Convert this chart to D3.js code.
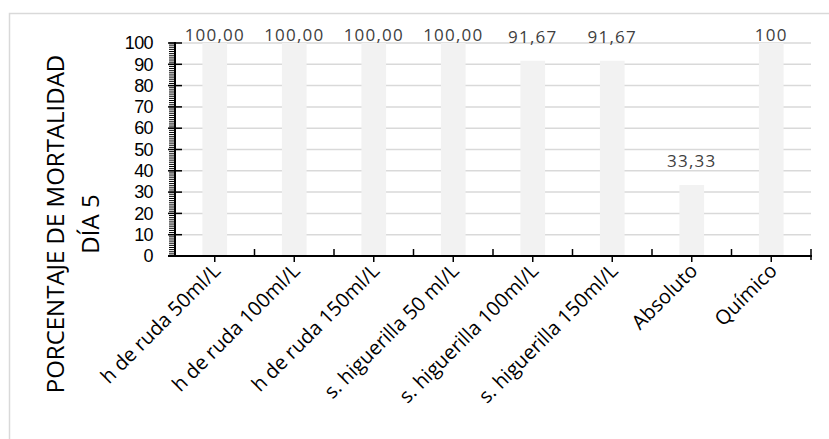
<!DOCTYPE html>
<html>
<head>
<meta charset="utf-8">
<script src="https://cdn.jsdelivr.net/npm/d3@7"></script>
<style>
  html, body { margin: 0; padding: 0; background: #fff; }
  svg { display: block; }
</style>
</head>
<body>
<div id="chart"></div>
<script>
// Mortalidad acumulada al día 5 por tratamiento
const categories = [
  "h de ruda 50ml/L",
  "h de ruda 100ml/L",
  "h de ruda 150ml/L",
  "s. higuerilla 50 ml/L",
  "s. higuerilla 100ml/L",
  "s. higuerilla 150ml/L",
  "Absoluto",
  "Químico"
];
const mortalidad = [100, 100, 100, 100, 91.67, 91.67, 33.33, 100];
const labelDecimals = [2, 2, 2, 2, 2, 2, 2, 0];
const yTicks = [0, 10, 20, 30, 40, 50, 60, 70, 80, 90, 100];
const yTitleLines = ["PORCENTAJE DE MORTALIDAD", "DÍA 5"];

const W = 829, H = 439;
const plot = { left: 175, right: 811, top: 43, bottom: 256 };

const svg = d3.select("#chart").append("svg")
  .attr("width", W).attr("height", H);

// chart frame
svg.append("rect")
  .attr("x", 9.5).attr("y", 13.5)
  .attr("width", W).attr("height", H)
  .attr("fill", "#fff")
  .attr("stroke", "#d9d9d9").attr("stroke-width", 1.5);

const x = d3.scaleBand().domain(categories).range([plot.left, plot.right]).padding(0);
const y = d3.scaleLinear().domain([0, 100]).range([plot.bottom, plot.top]);

// horizontal gridlines
svg.append("g").selectAll("line")
  .data(yTicks.filter(t => t > 0))
  .join("line")
  .attr("x1", plot.left).attr("x2", plot.right)
  .attr("y1", d => y(d)).attr("y2", d => y(d))
  .attr("stroke", "#d9d9d9").attr("stroke-width", 1.5);

// bars
const barW = x.bandwidth() * 0.31;
svg.append("g").selectAll("rect")
  .data(mortalidad)
  .join("rect")
  .attr("x", (d, i) => x(categories[i]) + (x.bandwidth() - barW) / 2)
  .attr("y", d => y(d))
  .attr("width", barW)
  .attr("height", d => y(0) - y(d))
  .attr("fill", "#f2f2f2");

// data labels
const fmtLabel = (v, dec) => d3.format("." + dec + "f")(v).replace(".", ",");
svg.append("g").selectAll("text")
  .data(mortalidad)
  .join("text")
  .attr("x", (d, i) => x(categories[i]) + x.bandwidth() / 2)
  .attr("y", d => Math.max(y(d) - 18, 41))
  .attr("text-anchor", "middle")
  .attr("font-family", "'Open Sans', sans-serif")
  .attr("font-size", 17)
  .attr("letter-spacing", 1.2)
  .attr("fill", "#404040")
  .text((d, i) => fmtLabel(d, labelDecimals[i]));

// y axis: minor ticks every unit, major ticks every 10
const yMinor = d3.range(0, 101, 1);
svg.append("g").selectAll("line")
  .data(yMinor)
  .join("line")
  .attr("x1", plot.left - 6).attr("x2", plot.left)
  .attr("y1", d => y(d)).attr("y2", d => y(d))
  .attr("stroke", "#000").attr("stroke-width", 1);

const yAxis = d3.axisLeft(y).tickValues(yTicks).tickSize(0).tickPadding(22);
const gy = svg.append("g").attr("transform", `translate(${plot.left},0)`).call(yAxis);
gy.select(".domain").remove();
gy.selectAll("text")
  .attr("font-family", "'Liberation Sans', Arial, sans-serif")
  .attr("font-size", 18)
  .attr("letter-spacing", -0.6)
  .attr("fill", "#000");

svg.append("g").selectAll("line")
  .data(yTicks)
  .join("line")
  .attr("x1", plot.left - 7).attr("x2", plot.left + 7)
  .attr("y1", d => y(d)).attr("y2", d => y(d))
  .attr("stroke", "#000").attr("stroke-width", 1.5);

svg.append("line")
  .attr("x1", plot.left).attr("x2", plot.left)
  .attr("y1", y(100) - 1).attr("y2", y(0) + 1)
  .attr("stroke", "#000").attr("stroke-width", 2);

// x axis line and ticks
svg.append("line")
  .attr("x1", plot.left - 7).attr("x2", plot.right + 1)
  .attr("y1", y(0)).attr("y2", y(0))
  .attr("stroke", "#000").attr("stroke-width", 2);

const boundaries = categories.map(c => x(c)).concat([plot.right]).slice(1);
svg.append("g").selectAll("line")
  .data(boundaries)
  .join("line")
  .attr("x1", d => d).attr("x2", d => d)
  .attr("y1", (d, i) => y(0) - 7)
  .attr("y2", (d, i) => i === boundaries.length - 1 ? y(0) + 4 : y(0))
  .attr("stroke", "#000").attr("stroke-width", 1.5);

svg.append("g").selectAll("line")
  .data(categories)
  .join("line")
  .attr("x1", d => x(d) + x.bandwidth() / 2).attr("x2", d => x(d) + x.bandwidth() / 2)
  .attr("y1", y(0)).attr("y2", y(0) + 6)
  .attr("stroke", "#000").attr("stroke-width", 1.5);

// category labels, rotated
svg.append("g").selectAll("text")
  .data(categories)
  .join("text")
  .attr("transform", d => `translate(${x(d) + x.bandwidth() / 2 + 7},${y(0) + 16}) rotate(-45)`)
  .attr("text-anchor", "end")
  .attr("font-family", "'Open Sans', sans-serif")
  .attr("font-size", 20)
  .attr("fill", "#000")
  .text(d => d);

// y axis title
const title = svg.append("text")
  .attr("transform", "translate(64,224) rotate(-90)")
  .attr("text-anchor", "middle")
  .attr("font-family", "'Open Sans', sans-serif")
  .attr("font-size", 24)
  .attr("fill", "#000");
title.selectAll("tspan")
  .data(yTitleLines)
  .join("tspan")
  .attr("x", 0)
  .attr("dy", (d, i) => i === 0 ? 0 : 35)
  .text(d => d);
</script>
</body>
</html>
